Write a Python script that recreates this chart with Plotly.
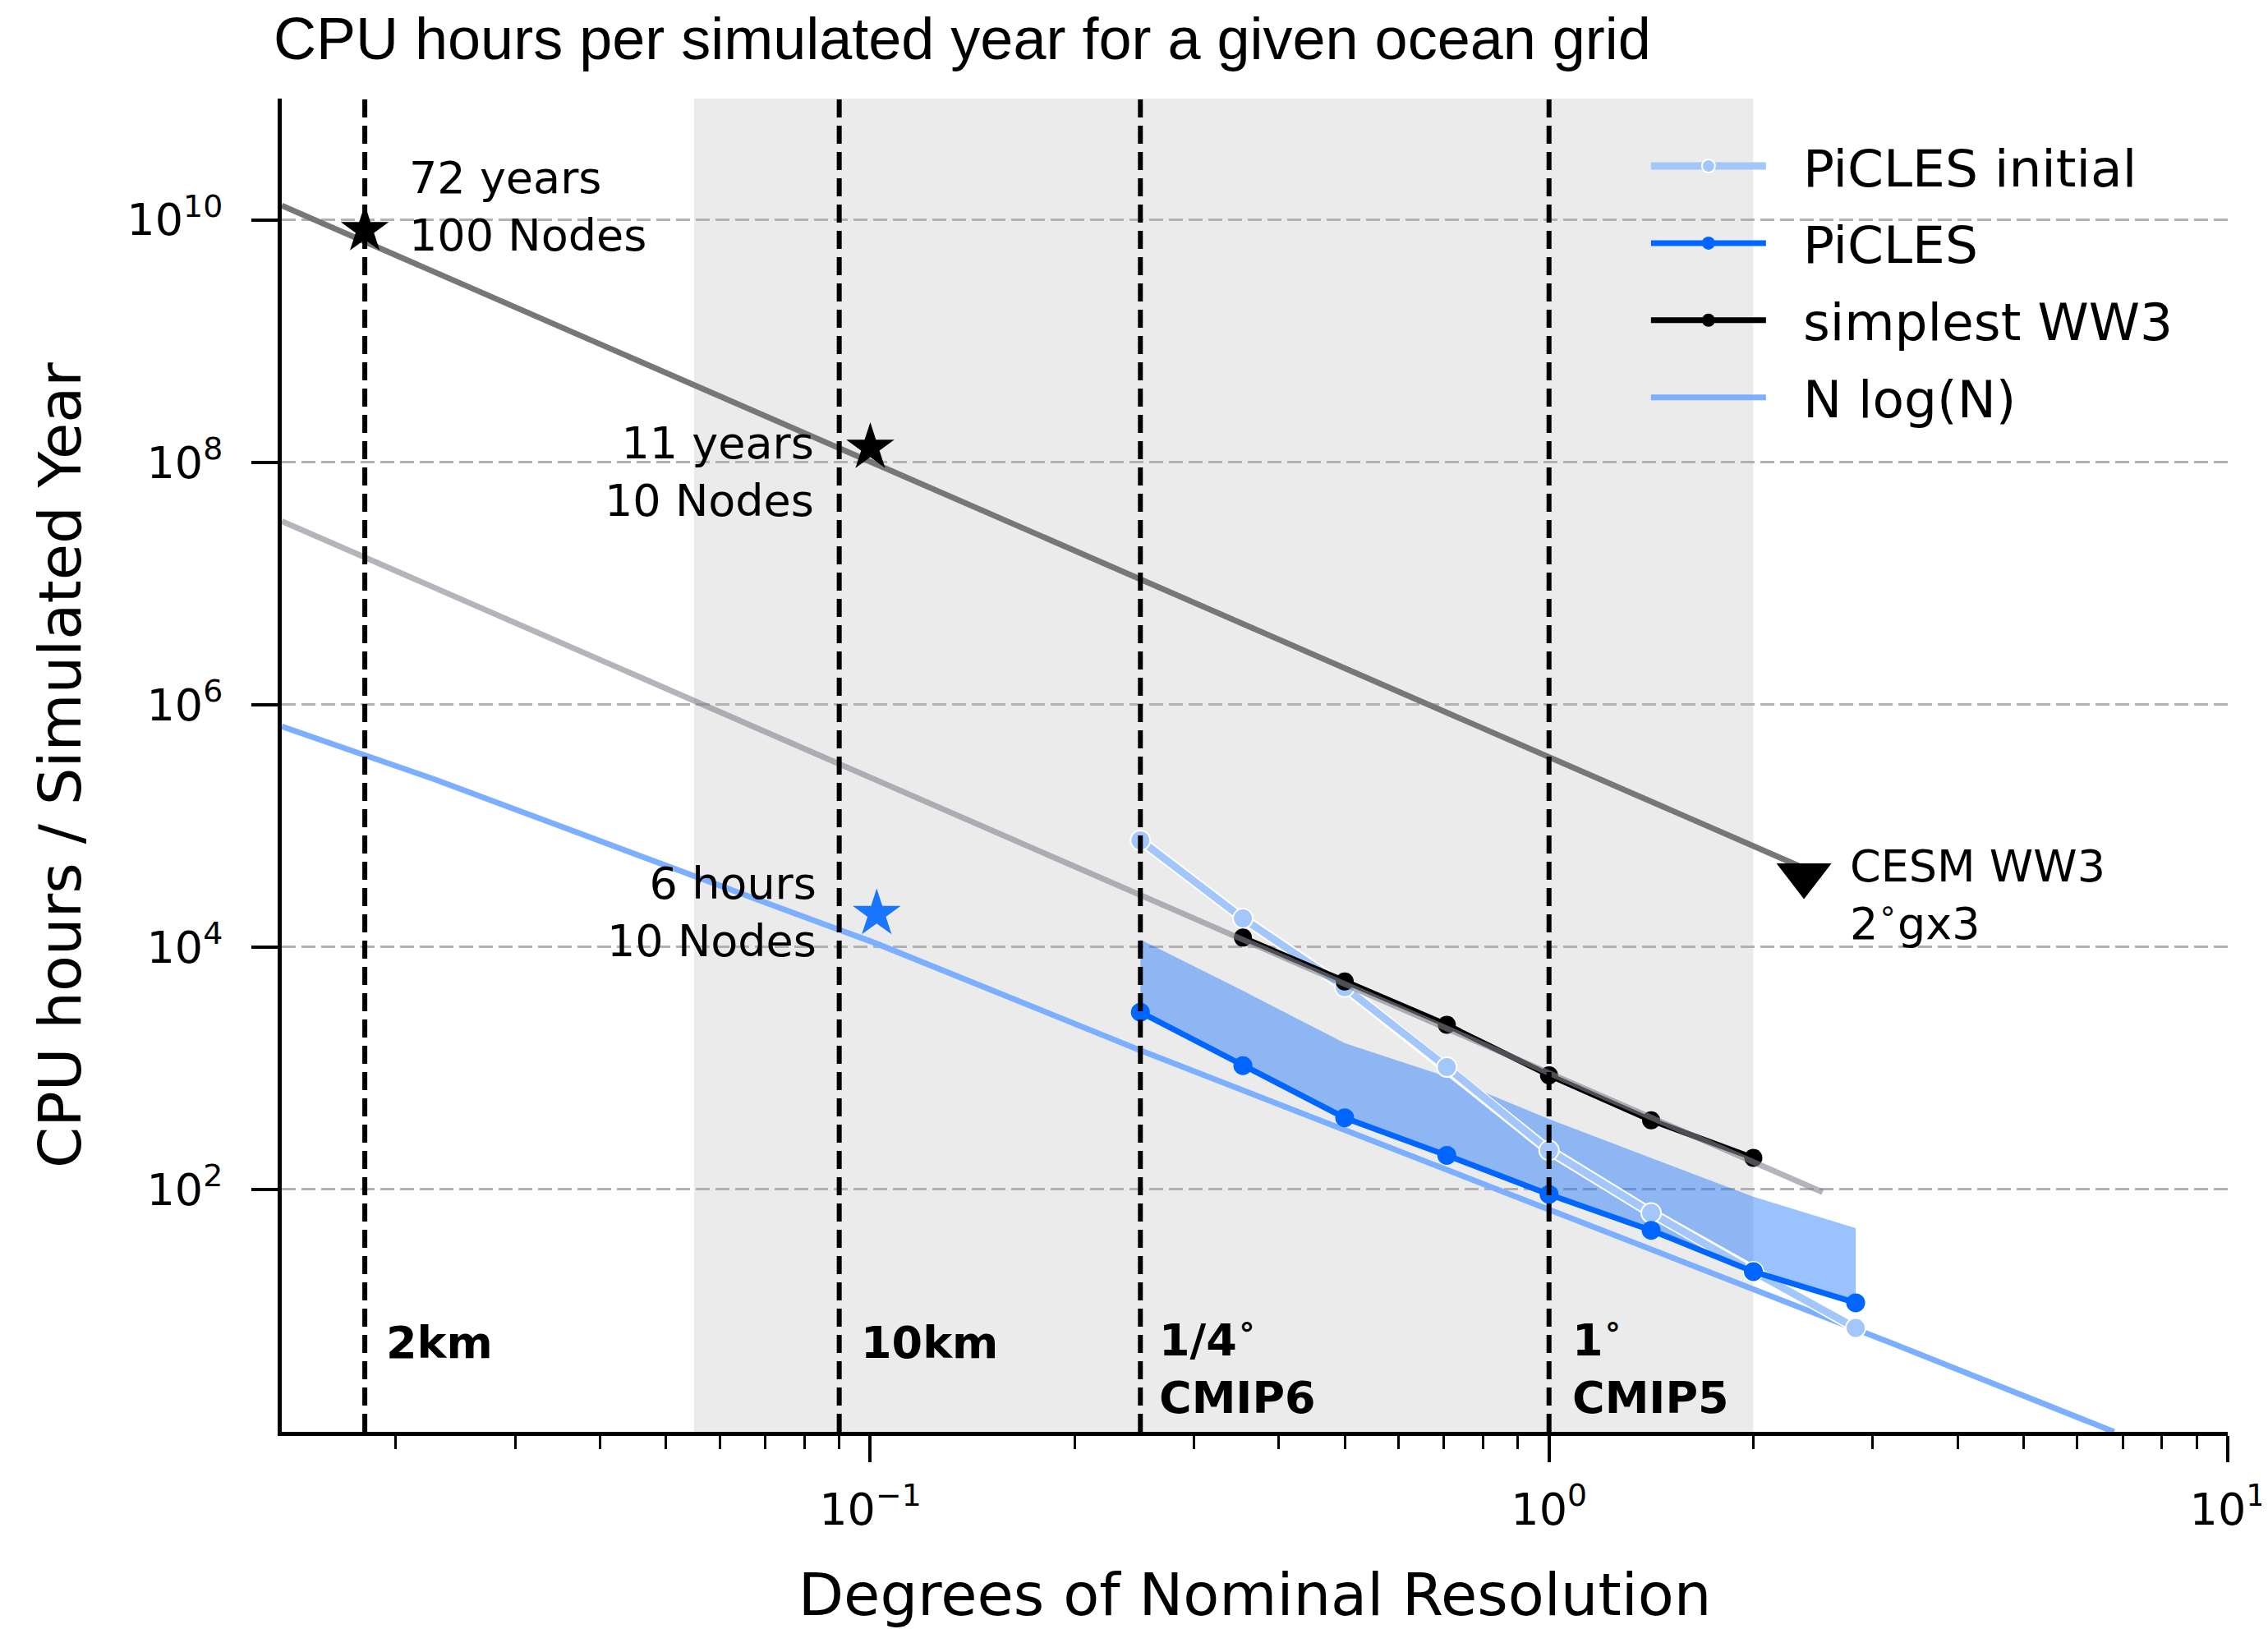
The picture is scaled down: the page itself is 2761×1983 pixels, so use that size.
import math
import plotly.graph_objects as go

# ---------------- data ----------------
RES = [0.25, 0.354, 0.5, 0.707, 1.0, 1.414, 2.0, 2.83]
PICLES_INITIAL = [75900, 17200, 4670, 1020, 210, 64, 21, 7.2]
PICLES = [2900, 1050, 390, 191, 91, 46, 21, 11.6]
PICLES_UPPER = [11500, 4360, 1610, 850, 380, 182, 87, 48]

WW3_RES = [0.354, 0.5, 0.707, 1.0, 1.414, 2.0]
WW3 = [11960, 5190, 2280, 875, 372, 182]

FIT_HIGH_X = [0.01358, 2.52]
FIT_HIGH_Y = [1.31e10, 3.88e4]
FIT_LOW_X = [0.01358, 2.53]
FIT_LOW_Y = [3.26e7, 95]

NLOGN_X = [0.01358, 0.0229, 0.0736, 0.1016, 0.248, 1.0, 3.17, 6.8]
NLOGN_Y = [6.6e5, 2.4e5, 2.1e4, 1.08e4, 1430, 68, 5.5, 1.0]

STAR_BLACK_X = [0.018, 0.1]
STAR_BLACK_Y = [8.25e9, 1.32e8]
STAR_BLUE_X = [0.1022]
STAR_BLUE_Y = [1.88e4]
CESM_X = [2.375]
CESM_Y = [3.9e4]

REF_RES = [0.018, 0.09, 0.25, 1.0]
REF_LABELS = ["<b>2km</b>", "<b>10km</b>",
              "<b>1/4<sup>∘</sup><br>CMIP6</b>", "<b>1<sup>∘</sup><br>CMIP5</b>"]
SHADE_RANGE = [0.055, 2.0]

X_TICKS = [0.01, 0.1, 1, 10]
X_TICK_TEXT = ["10<sup>−2</sup>", "10<sup>−1</sup>", "10<sup>0</sup>", "10<sup>1</sup>"]
Y_TICKS = [1e2, 1e4, 1e6, 1e8, 1e10]
Y_TICK_TEXT = ["10<sup>2</sup>", "10<sup>4</sup>", "10<sup>6</sup>", "10<sup>8</sup>", "10<sup>10</sup>"]
X_MINOR = [k * 10.0 ** e for e in (-2, -1, 0) for k in range(2, 10)]

# ---------------- styles ----------------
FONT = "DejaVu Sans"
C_PICLES = "#0066ff"
C_INIT = "#a3c6fb"
C_NLOGN = "#7cafff"
C_DARK = "#777777"
PAD = "\u00a0\u00a0"  # gap between legend sample and label

fig = go.Figure()

# WW3 fit line (upper) and N log N reference
fig.add_trace(go.Scatter(x=FIT_HIGH_X, y=FIT_HIGH_Y, mode="lines",
                         line=dict(color=C_DARK, width=7), showlegend=False, hoverinfo="skip"))
fig.add_trace(go.Scatter(x=NLOGN_X, y=NLOGN_Y, mode="lines", name=PAD + "N log(N)",
                         line=dict(color=C_NLOGN, width=7), legendrank=4,
                         legendgroup="d"))

# band between PiCLES and its upper bound
fig.add_trace(go.Scatter(x=RES, y=PICLES, mode="lines", line=dict(width=0),
                         showlegend=False, hoverinfo="skip"))
fig.add_trace(go.Scatter(x=RES, y=PICLES_UPPER, mode="lines", line=dict(width=0),
                         fill="tonexty", fillcolor="rgba(0,102,255,0.40)",
                         showlegend=False, hoverinfo="skip"))

# PiCLES initial with white outline
fig.add_trace(go.Scatter(x=RES, y=PICLES_INITIAL, mode="lines", line=dict(color="white", width=13),
                         showlegend=False, hoverinfo="skip"))
fig.add_trace(go.Scatter(x=RES, y=PICLES_INITIAL, mode="lines+markers", name=PAD + "PiCLES initial",
                         line=dict(color=C_INIT, width=9),
                         marker=dict(color=C_INIT, size=24, line=dict(color="white", width=2)),
                         legendrank=1, legendgroup="a"))

# simplest WW3
fig.add_trace(go.Scatter(x=WW3_RES, y=WW3, mode="lines+markers", name=PAD + "simplest WW3",
                         line=dict(color="black", width=7),
                         marker=dict(color="black", size=22),
                         legendrank=3, legendgroup="c"))

# lower fit line (semi-transparent gray, over the WW3 line)
fig.add_trace(go.Scatter(x=FIT_LOW_X, y=FIT_LOW_Y, mode="lines",
                         line=dict(color="rgba(130,132,140,0.6)", width=7),
                         showlegend=False, hoverinfo="skip"))

# PiCLES
fig.add_trace(go.Scatter(x=RES, y=PICLES, mode="lines+markers", name=PAD + "PiCLES",
                         line=dict(color=C_PICLES, width=7),
                         marker=dict(color=C_PICLES, size=23),
                         legendrank=2, legendgroup="b"))

# stars and CESM marker
fig.add_trace(go.Scatter(x=STAR_BLACK_X, y=STAR_BLACK_Y, mode="markers",
                         marker=dict(symbol="star", size=44, color="black"),
                         showlegend=False, hoverinfo="skip"))
fig.add_trace(go.Scatter(x=STAR_BLUE_X, y=STAR_BLUE_Y, mode="markers",
                         marker=dict(symbol="star", size=44, color="#1a75ff"),
                         showlegend=False, hoverinfo="skip"))
fig.add_trace(go.Scatter(x=CESM_X, y=CESM_Y, mode="markers",
                         marker=dict(symbol="triangle-down", size=58, color="black"),
                         showlegend=False, hoverinfo="skip"))

# shaded resolution range
fig.add_shape(type="rect", xref="x", yref="paper", x0=SHADE_RANGE[0], x1=SHADE_RANGE[1],
              y0=0, y1=1, fillcolor="#ebebeb", line=dict(width=0), layer="below")

# reference resolution lines
for xv in REF_RES:
    fig.add_shape(type="line", xref="x", yref="paper", x0=xv, x1=xv, y0=0, y1=1,
                  line=dict(color="black", width=6, dash="22px,10px"), layer="above")

# ---------------- annotations ----------------
ANN_FONT = dict(family=FONT, size=54, color="black")
lg = math.log10


def ann(text, x, y, xanchor, yanchor="middle", align="left"):
    fig.add_annotation(text=text, x=lg(x), y=lg(y), xref="x", yref="y",
                       xanchor=xanchor, yanchor=yanchor, align=align,
                       showarrow=False, font=ANN_FONT)


ann("72 years<br>100 Nodes", 0.0208, 1.28e10, "left")
ann("11 years<br>10 Nodes", 0.083, 8.25e7, "right", align="right")
ann("6 hours<br>10 Nodes", 0.0837, 1.93e4, "right", align="right")
ann("CESM WW3<br>2<sup>∘</sup>gx3", 2.76, 2.69e4, "left")

REF_LABEL_X = [0.01923, 0.0962, 0.2647, 1.077]
REF_LABEL_Y = [5.42, 5.42, 3.54, 3.54]
for t, xv, yv in zip(REF_LABELS, REF_LABEL_X, REF_LABEL_Y):
    ann(t, xv, yv, "left")

# ---------------- layout ----------------
fig.update_layout(
    width=2761, height=1983,
    margin=dict(l=335, r=57, t=112, b=248),
    paper_bgcolor="white", plot_bgcolor="white",
    font=dict(family=FONT, size=54, color="black"),
    title=dict(text="CPU hours per simulated year for a given ocean grid",
               font=dict(family="Liberation Sans", size=72, color="black"),
               x=325 / 2761, xanchor="left", xref="container",
               y=1 - 39 / 1983, yanchor="middle", yref="container"),
    showlegend=True,
    legend=dict(x=0.7015, xanchor="left", y=0.9787, yanchor="top",
                font=dict(family=FONT, size=63, color="black"),
                bgcolor="rgba(0,0,0,0)", itemwidth=140, tracegroupgap=9,
                traceorder="grouped"),
)

fig.update_xaxes(
    type="log", range=[lg(0.01358), 1.0],
    showline=True, linecolor="black", linewidth=5, mirror=False,
    ticks="outside", ticklen=32, tickwidth=4, tickcolor="black",
    tickvals=X_TICKS, ticktext=X_TICK_TEXT, tickfont=dict(family=FONT, size=54),
    ticklabelstandoff=11,
    showgrid=False, zeroline=False,
    minor=dict(tickvals=X_MINOR, ticks="outside", ticklen=16, tickwidth=3,
               tickcolor="black", showgrid=False),
    title=dict(text="Degrees of Nominal Resolution", font=dict(family=FONT, size=72), standoff=49),
)

fig.update_yaxes(
    type="log", range=[0, 11],
    showline=True, linecolor="black", linewidth=5, mirror=False,
    ticks="outside", ticklen=32, tickwidth=4, tickcolor="black",
    tickvals=Y_TICKS, ticktext=Y_TICK_TEXT, tickfont=dict(family=FONT, size=54),
    ticklabelstandoff=24,
    showgrid=True, gridcolor="#b2b2b2", gridwidth=3, griddash="17px,7px",
    zeroline=False,
    title=dict(text="CPU hours / Simulated Year", font=dict(family=FONT, size=72), standoff=34),
)

fig.write_html("out.html")
